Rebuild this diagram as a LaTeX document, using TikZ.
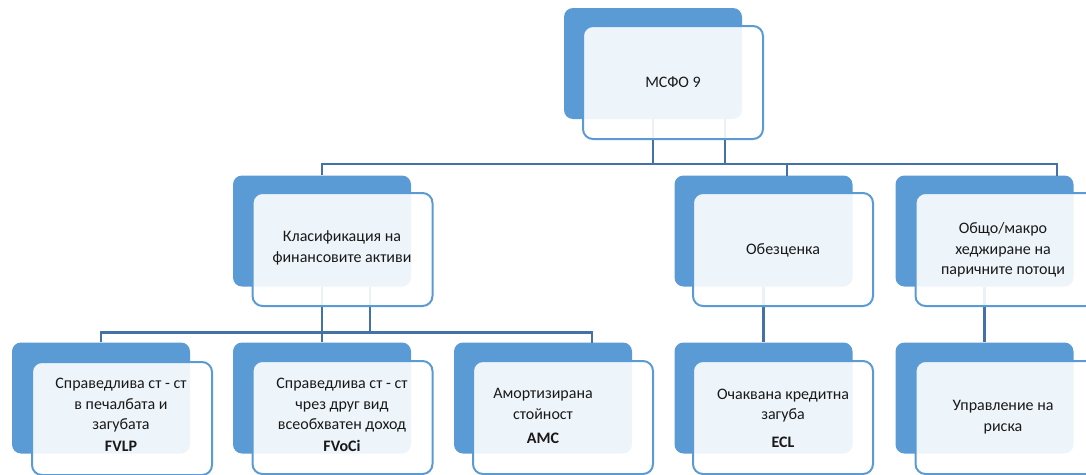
\documentclass[tikz,border=0pt]{standalone}
\usepackage{fontspec}
\setmainfont{Carlito}
\definecolor{ifrsBlue}{RGB}{91,155,213}
\definecolor{ifrsLine}{RGB}{68,114,166}
\definecolor{ifrsText}{RGB}{25,25,25}

\begin{document}
\begin{tikzpicture}[x=1pt,y=1pt,yscale=-1,xscale=1,
    backbox/.style={rectangle,rounded corners=9pt,fill=ifrsBlue,draw=none,
        minimum width=178pt,minimum height=111pt,inner sep=0pt},
    frontbox/.style={rectangle,rounded corners=10pt,draw=ifrsBlue,line width=2pt,
        fill=white,fill opacity=0.9,minimum width=180pt,minimum height=113pt,inner sep=0pt},
    conn/.style={draw=ifrsLine,line width=2.4pt},
    txt/.style={align=center,font=\fontsize{16}{20.5}\selectfont,text=ifrsText,inner sep=0.75pt}]
    % picture is 1086 x 474
    \useasboundingbox (0,0) rectangle (1086,474);
    \clip (0,0) rectangle (1086,474);

    %Shape: back boxes
    \node[backbox] (mcfoB) at (653,63.5) {};
    \node[backbox] (klasB) at (322,231) {};
    \node[backbox] (obezB) at (763.5,231) {};
    \node[backbox] (obshB) at (984.5,231) {};
    \node[backbox] (fvlpB) at (101,398) {};
    \node[backbox] (fvociB) at (322,398) {};
    \node[backbox] (amcB) at (543,398) {};
    \node[backbox] (eclB) at (763.5,398) {};
    \node[backbox] (uprB) at (984.5,398) {};

    %Shape: connector bends
    \coordinate (busTop) at (0,164);
    \coordinate (busBot) at (0,332.5);
    \coordinate (mcfoTap) at (725,119);
    \coordinate (klasTap) at (370,287);
    \coordinate (obezDrop) at (787,175.5);
    \coordinate (obshDrop) at (1057,175.5);
    \coordinate (amcDrop) at (592,342.5);

    %Shape: level 1 connectors
    \draw[conn] (mcfoB.south) -- (mcfoB.south |- busTop);
    \draw[conn] (mcfoTap) -- (mcfoTap |- busTop);
    \draw[conn] (klasB.north) |- (obshDrop |- busTop) -- (obshDrop);
    \draw[conn] (obezDrop |- busTop) -- (obezDrop);
    %Shape: level 2 connectors
    \draw[conn] (klasB.south) -- (klasB.south |- busBot);
    \draw[conn] (klasTap) -- (klasTap |- busBot);
    \draw[conn] (fvlpB.north) |- (amcDrop |- busBot) -- (amcDrop);
    \draw[conn] (fvociB.north) -- (fvociB.north |- busBot);
    \draw[conn] (obezB.south) -- (eclB.north);
    \draw[conn] (obshB.south) -- (uprB.north);

    %Shape: front boxes
    \node[frontbox] (mcfo) at (673,82.5) {};
    \node[frontbox] (klas) at (342.5,249.5) {};
    \node[frontbox] (obez) at (783,249.5) {};
    \node[frontbox] (obsh) at (1005.5,249.5) {};
    \node[frontbox] (fvlp) at (122,418.5) {};
    \node[frontbox] (fvoci) at (342.5,417.5) {};
    \node[frontbox] (amc) at (563,417.5) {};
    \node[frontbox] (ecl) at (783,417.5) {};
    \node[frontbox] (upr) at (1005.5,417.5) {};

    % Text Node
    \node[txt] (mcfoT) at (673,82) {МСФО 9};
    % Text Node
    \node[txt] (klasT) at (342,248) {Класификация на\\финансовите активи};
    % Text Node
    \node[txt] (obezT) at (783,250) {Обезценка};
    % Text Node
    \node[txt] (obshT) at (1003,250) {Общо/макро\\хеджиране на\\паричните потоци};
    % Text Node
    \node[txt] (fvlpT) at (121,415) {Справедлива ст - ст\\в печалбата и\\загубата\\[1.5pt]\textbf{FVLP}};
    % Text Node
    \node[txt] (fvociT) at (342,415) {Справедлива ст - ст\\чрез друг вид\\всеобхватен доход\\[1.5pt]\textbf{FVoCi}};
    % Text Node
    \node[txt] (amcT) at (543,416) {Амортизирана\\стойност\\[4pt]\textbf{AMC}};
    % Text Node
    \node[txt] (eclT) at (783,418) {Очаквана кредитна\\загуба\\[7pt]\textbf{ECL}};
    % Text Node
    \node[txt] (uprT) at (1003,417) {Управление на\\риска};

\end{tikzpicture}
\end{document}
